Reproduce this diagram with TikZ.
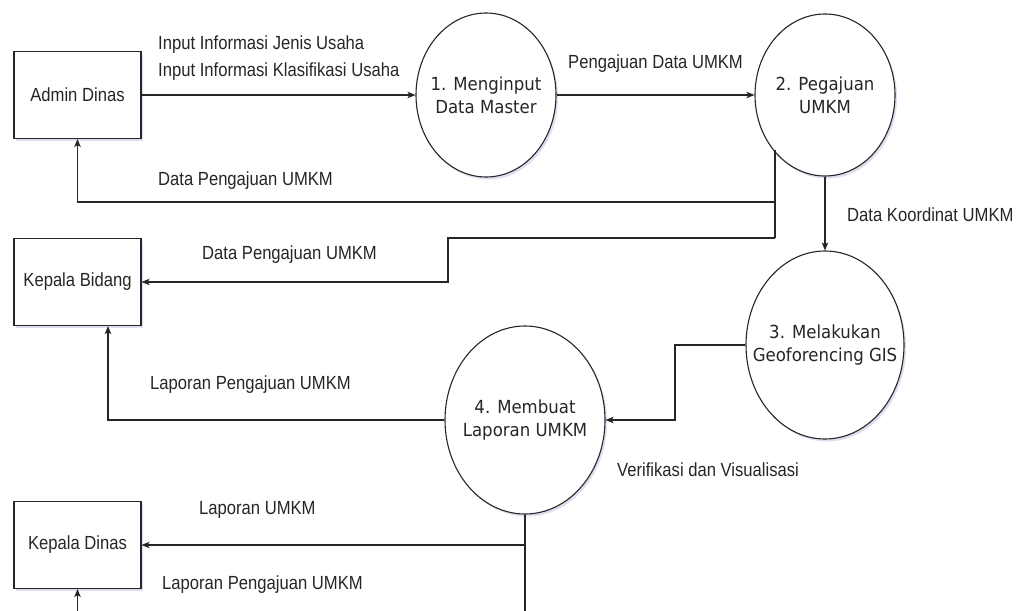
\documentclass[tikz,border=0pt]{standalone}
\usepackage{fontspec}
\setmainfont{Liberation Sans}
\newfontfamily\lblfont[FakeStretch=0.875]{Liberation Sans}
\newfontfamily\procfont[FakeStretch=0.92]{DejaVu Sans}
\usetikzlibrary{arrows.meta,shapes.geometric,shadows}

\tikzset{
  shade box/.style={drop shadow={shadow xshift=2pt, shadow yshift=-2.5pt, opacity=0.18, fill=blue!40!gray}},
  entity/.style={draw=black!85, fill=white, line width=1.1pt, minimum width=127pt,
    minimum height=87pt, inner sep=0pt, text=black!85,
    font=\lblfont\fontsize{19}{22}\selectfont, shade box},
  proc/.style={ellipse, draw=black!85, fill=white, line width=1.1pt, inner sep=0pt, shade box},
  proctext/.style={align=center, inner sep=0pt, text=black!85,
    font=\procfont\fontsize{18}{23}\selectfont},
  flow/.style={draw=black!85, line width=1.1pt, -{Stealth[length=8pt,width=6.5pt,inset=2pt]}},
  wire/.style={draw=black!85, line width=1.1pt},
  lbl/.style={anchor=west, inner sep=0pt, text height=13.5pt, text depth=0pt, text=black!85,
    font=\lblfont\fontsize{19}{22}\selectfont}
}

\begin{document}
\begin{tikzpicture}[x=1pt,y=-1pt]
\useasboundingbox (0,0) rectangle (1030,610);
\clip (0,0) rectangle (1030,610);
\fill[white] (0,0) rectangle (1030,610);

% external entities
\node[entity] (admin) at (77.5,95)  {Admin Dinas};
\node[entity] (kbid)  at (77.5,282) {Kepala Bidang};
\node[entity] (kdin)  at (77.5,545) {Kepala Dinas};

% processes
\node[proc, minimum width=140pt, minimum height=164pt,
      label={[proctext]center:1. Menginput\\Data Master}] (p1) at (486,95) {};
\node[proc, minimum width=140pt, minimum height=162pt,
      label={[proctext]center:2. Pegajuan\\UMKM}] (p2) at (825,95) {};
\node[proc, minimum width=158pt, minimum height=188pt,
      label={[proctext]center:3. Melakukan\\Geoforencing GIS}] (p3) at (825,345) {};
\node[proc, minimum width=160pt, minimum height=188pt,
      label={[proctext]center:4. Membuat\\Laporan UMKM}] (p4) at (525,420) {};

% bend points
\coordinate (j1) at (775,202);
\coordinate (j2) at (775,238);
\coordinate (k1) at (448,238);
\coordinate (m1) at (675,345);
\coordinate (n1) at (108,420);
\coordinate (r1) at (525,640);

% data flows
\draw[flow] (admin.east) -- (p1.west);
\draw[flow] (p1.east) -- (p2.west);
\draw[wire] (j2 |- p2.227) -- (j2);
\draw[flow] (j1) -| (admin.south);
\draw[flow] (j2) -- (k1) |- (kbid.east);
\draw[flow] (p2.south) -- (p3.north);
\draw[flow] (p3.west) -- (m1) |- (p4.east);
\draw[flow] (p4.west) -- (n1) -- (n1 |- kbid.south);
\draw[flow] (p4.south) |- (kdin.east);
\draw[flow] (p4.south) -- (r1) -| (kdin.south);

% flow labels
\node[lbl] (t1) at (158,43)  {Input Informasi Jenis Usaha};
\node[lbl] (t2) at (158,70)  {Input Informasi Klasifikasi Usaha};
\node[lbl] (t3) at (568,62)  {Pengajuan Data UMKM};
\node[lbl] (t4) at (158,179) {Data Pengajuan UMKM};
\node[lbl] (t5) at (202,253) {Data Pengajuan UMKM};
\node[lbl] (t6) at (847,215) {Data Koordinat UMKM};
\node[lbl] (t7) at (150,383) {Laporan Pengajuan UMKM};
\node[lbl] (t8) at (617,470) {Verifikasi dan Visualisasi};
\node[lbl] (t9) at (199,508) {Laporan UMKM};
\node[lbl] (t10) at (162,583) {Laporan Pengajuan UMKM};
\end{tikzpicture}
\end{document}
